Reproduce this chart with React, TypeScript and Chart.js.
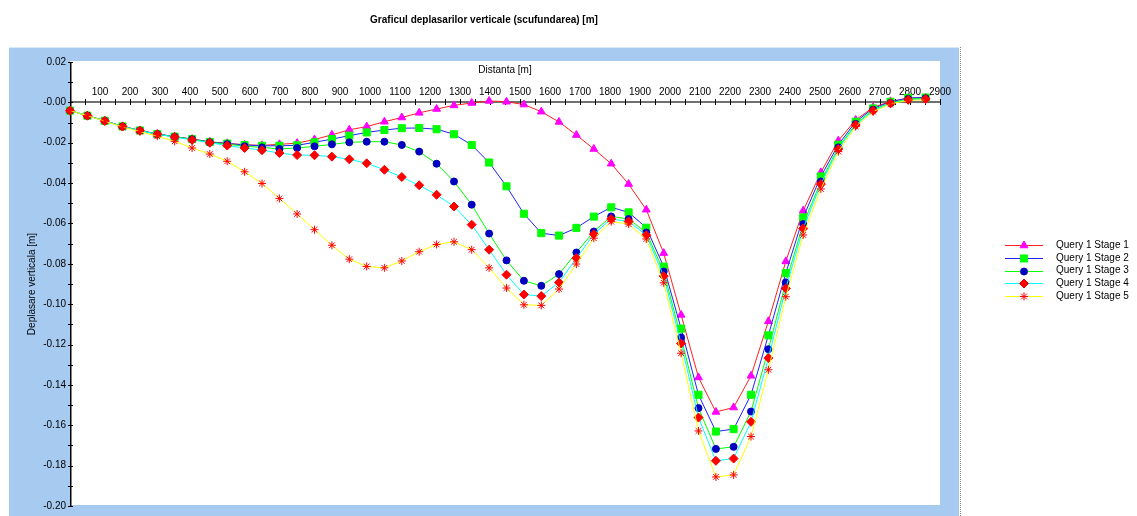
import React, { useEffect, useRef } from 'react';
import { Chart, registerables } from 'chart.js';
import { drawPoint } from 'chart.js/helpers';

Chart.register(...registerables);

const titleText = 'Graficul deplasarilor verticale (scufundarea) [m]';
const xAxisTitle = 'Distanta [m]';
const yAxisTitle = 'Deplasare verticala [m]';

const seriesNames = ['Query 1 Stage 1', 'Query 1 Stage 2', 'Query 1 Stage 3', 'Query 1 Stage 4', 'Query 1 Stage 5'];

const distances = [
  0, 58, 116, 175, 233, 291, 349, 407, 466, 524,
  582, 640, 698, 757, 815, 873, 931, 989, 1048, 1106,
  1164, 1222, 1280, 1339, 1397, 1455, 1513, 1571, 1630, 1688,
  1746, 1804, 1862, 1921, 1979, 2037, 2095, 2153, 2212, 2270,
  2328, 2386, 2444, 2503, 2561, 2619, 2677, 2735, 2794, 2852,
];

const stage1 = [
  -0.0041, -0.0066, -0.0091, -0.0119, -0.0139, -0.0157, -0.0170, -0.0182, -0.0196, -0.0203,
  -0.0210, -0.0213, -0.0208, -0.0202, -0.0184, -0.0161, -0.0136, -0.0120, -0.0096, -0.0075,
  -0.0052, -0.0033, -0.0015, -0.0003, 0.0007, 0.0003, -0.0011, -0.0046, -0.0097, -0.0162,
  -0.0231, -0.0304, -0.0405, -0.0532, -0.0747, -0.1053, -0.1363, -0.1534, -0.1512, -0.1355,
  -0.1085, -0.0788, -0.0537, -0.0347, -0.0190, -0.0087, -0.0025, 0.0005, 0.0020, 0.0022,
];

const stage2 = [
  -0.0041, -0.0066, -0.0091, -0.0119, -0.0139, -0.0157, -0.0170, -0.0182, -0.0196, -0.0204,
  -0.0211, -0.0215, -0.0215, -0.0213, -0.0198, -0.0182, -0.0165, -0.0149, -0.0137, -0.0128,
  -0.0127, -0.0133, -0.0158, -0.0211, -0.0298, -0.0416, -0.0552, -0.0648, -0.0660, -0.0622,
  -0.0566, -0.0520, -0.0545, -0.0621, -0.0814, -0.1121, -0.1449, -0.1631, -0.1619, -0.1449,
  -0.1154, -0.0846, -0.0570, -0.0367, -0.0210, -0.0096, -0.0030, 0.0003, 0.0022, 0.0024,
];

const stage3 = [
  -0.0041, -0.0066, -0.0092, -0.0120, -0.0140, -0.0158, -0.0171, -0.0183, -0.0198, -0.0207,
  -0.0217, -0.0223, -0.0231, -0.0226, -0.0218, -0.0208, -0.0198, -0.0195, -0.0195, -0.0211,
  -0.0244, -0.0304, -0.0392, -0.0507, -0.0650, -0.0783, -0.0884, -0.0909, -0.0851, -0.0744,
  -0.0640, -0.0565, -0.0578, -0.0645, -0.0838, -0.1165, -0.1515, -0.1717, -0.1707, -0.1532,
  -0.1223, -0.0892, -0.0603, -0.0392, -0.0223, -0.0107, -0.0036, -0.0003, 0.0017, 0.0020,
];

const stage4 = [
  -0.0041, -0.0066, -0.0092, -0.0120, -0.0140, -0.0158, -0.0172, -0.0186, -0.0200, -0.0214,
  -0.0226, -0.0237, -0.0251, -0.0261, -0.0262, -0.0269, -0.0282, -0.0302, -0.0334, -0.0370,
  -0.0411, -0.0458, -0.0516, -0.0606, -0.0730, -0.0854, -0.0952, -0.0960, -0.0892, -0.0772,
  -0.0653, -0.0578, -0.0590, -0.0658, -0.0861, -0.1195, -0.1562, -0.1776, -0.1765, -0.1583,
  -0.1267, -0.0922, -0.0625, -0.0405, -0.0231, -0.0112, -0.0041, -0.0005, 0.0013, 0.0017,
];

const stage5 = [
  -0.0041, -0.0066, -0.0093, -0.0122, -0.0145, -0.0168, -0.0193, -0.0226, -0.0256, -0.0292,
  -0.0344, -0.0402, -0.0476, -0.0553, -0.0631, -0.0708, -0.0777, -0.0813, -0.0820, -0.0786,
  -0.0740, -0.0704, -0.0691, -0.0730, -0.0820, -0.0920, -0.1003, -0.1006, -0.0925, -0.0801,
  -0.0673, -0.0591, -0.0603, -0.0677, -0.0894, -0.1243, -0.1628, -0.1856, -0.1846, -0.1656,
  -0.1325, -0.0963, -0.0657, -0.0429, -0.0244, -0.0120, -0.0046, -0.0008, 0.0010, 0.0013,
];

const xTickLabels = [
  '100', '200', '300', '400', '500', '600', '700', '800', '900', '1000',
  '1100', '1200', '1300', '1400', '1500', '1600', '1700', '1800', '1900', '2000',
  '2100', '2200', '2300', '2400', '2500', '2600', '2700', '2800', '2900',
];

const yTickLabels = ['0.02', '-0.00', '-0.02', '-0.04', '-0.06', '-0.08', '-0.10', '-0.12', '-0.14', '-0.16', '-0.18', '-0.20'];
const yTickValues = [0.02, 0, -0.02, -0.04, -0.06, -0.08, -0.1, -0.12, -0.14, -0.16, -0.18, -0.2];

const seriesValues = [stage1, stage2, stage3, stage4, stage5];

const seriesStyles = [
  { line: '#ff2020', fill: '#ff00ff', border: '#ff00ff', shape: 'triangle', radius: 4.5 },
  { line: '#2020ff', fill: '#00ff00', border: '#00ff00', shape: 'rect', radius: 5 },
  { line: '#00ff00', fill: '#0000c0', border: '#0000c0', shape: 'circle', radius: 3.5 },
  { line: '#00ffff', fill: '#ff0000', border: '#ff0000', shape: 'rectRot', radius: 4.5 },
  { line: '#ffff00', fill: '#ff0000', border: '#ff0000', shape: 'star', radius: 4 },
];

const FONT = '"Liberation Sans", Arial, sans-serif';
const PANEL_BLUE = '#a6caf0';

const decorPlugin = {
  id: 'decor',
  beforeDraw(chart: any) {
    const { ctx, chartArea } = chart;
    ctx.save();
    ctx.fillStyle = '#ffffff';
    ctx.fillRect(0, 0, chart.width, chart.height);
    // blue panel
    ctx.fillStyle = PANEL_BLUE;
    ctx.fillRect(9, 47, 950, chart.height - 47);
    // light top border
    ctx.fillStyle = '#d8e8f8';
    ctx.fillRect(9, 47, 950, 1);
    // white plot area
    ctx.fillStyle = '#ffffff';
    ctx.fillRect(chartArea.left, chartArea.top - 1, chartArea.right - chartArea.left, chartArea.bottom - chartArea.top);
    // dotted right edge
    ctx.strokeStyle = '#808080';
    ctx.lineWidth = 1;
    ctx.setLineDash([1, 1]);
    ctx.beginPath();
    ctx.moveTo(960.5, 47);
    ctx.lineTo(960.5, chart.height);
    ctx.stroke();
    ctx.setLineDash([]);
    // title
    ctx.fillStyle = '#000000';
    ctx.font = `bold 10px ${FONT}`;
    ctx.textAlign = 'center';
    ctx.textBaseline = 'middle';
    ctx.fillText(titleText, 484, 20);
    ctx.restore();
  },
  beforeDatasetsDraw(chart: any) {
    const { ctx, chartArea, scales } = chart;
    const xs = scales.x;
    const ys = scales.y;
    ctx.save();
    const y0 = Math.round(ys.getPixelForValue(0));
    const xl = Math.round(xs.getPixelForValue(0));
    // x axis line
    ctx.fillStyle = '#707070';
    ctx.fillRect(chartArea.left, y0 - 1, chartArea.right - chartArea.left, 2);
    // x ticks every 50
    ctx.strokeStyle = '#000000';
    ctx.lineWidth = 1;
    ctx.beginPath();
    for (let v = 50; v <= 2900; v += 50) {
      const px = Math.round(xs.getPixelForValue(v)) + 0.5;
      ctx.moveTo(px, y0 - 3);
      ctx.lineTo(px, y0 + 3);
    }
    ctx.stroke();
    // x tick labels
    ctx.fillStyle = '#000000';
    ctx.font = `10px ${FONT}`;
    ctx.textAlign = 'center';
    ctx.textBaseline = 'middle';
    xTickLabels.forEach((lab) => {
      const px = xs.getPixelForValue(Number(lab));
      ctx.fillText(lab, px, y0 - 10);
    });
    // x axis title
    ctx.fillText(xAxisTitle, (chartArea.left + chartArea.right) / 2, 70);
    // y axis line
    ctx.fillStyle = '#000000';
    ctx.fillRect(xl, chartArea.top, 1.5, chartArea.bottom - chartArea.top + 1);
    // y ticks every 0.01
    ctx.beginPath();
    for (let k = 0; k <= 22; k++) {
      const v = 0.02 - k * 0.01;
      const py = Math.round(ys.getPixelForValue(v)) + 0.5;
      ctx.moveTo(xl - 2, py);
      ctx.lineTo(xl + 3, py);
    }
    ctx.stroke();
    ctx.textAlign = 'right';
    yTickLabels.forEach((lab, i) => {
      const py = ys.getPixelForValue(yTickValues[i]);
      ctx.fillText(lab, xl - 4, py);
    });
    // y axis title
    ctx.save();
    ctx.translate(32, (chartArea.top + chartArea.bottom) / 2);
    ctx.rotate(-Math.PI / 2);
    ctx.textAlign = 'center';
    ctx.fillText(yAxisTitle, 0, 0);
    ctx.restore();
    ctx.restore();
  },
  afterDraw(chart: any) {
    const { ctx } = chart;
    ctx.save();
    const rowY = [245, 257.8, 270.6, 283.4, 296.2];
    seriesNames.forEach((name, i) => {
      const st = seriesStyles[i];
      const y = rowY[i];
      ctx.strokeStyle = st.line;
      ctx.lineWidth = 1;
      ctx.beginPath();
      ctx.moveTo(1005, Math.round(y) + 0.5);
      ctx.lineTo(1043, Math.round(y) + 0.5);
      ctx.stroke();
      ctx.fillStyle = st.fill;
      ctx.strokeStyle = st.border;
      drawPoint(ctx, { pointStyle: st.shape, radius: st.radius, rotation: 0, borderWidth: 1 } as any, 1024, Math.round(y) + 0.5);
      ctx.fillStyle = '#000000';
      ctx.font = `10px ${FONT}`;
      ctx.textAlign = 'left';
      ctx.textBaseline = 'middle';
      ctx.fillText(name, 1056, y);
    });
    ctx.restore();
  },
};

export default function App() {
  const canvasRef = useRef<HTMLCanvasElement | null>(null);

  useEffect(() => {
    const canvas = canvasRef.current;
    if (!canvas) return;
    const datasets = seriesValues.map((vals, k) => {
      const st = seriesStyles[k];
      return {
        label: seriesNames[k],
        data: distances.map((x, i) => ({ x, y: vals[i] })),
        showLine: true,
        borderColor: st.line,
        borderWidth: 1,
        backgroundColor: st.fill,
        pointStyle: st.shape,
        pointRadius: st.radius,
        pointBackgroundColor: st.fill,
        pointBorderColor: st.border,
        pointBorderWidth: 1,
        tension: 0,
        clip: false,
        order: 5 - k,
      };
    });
    const chart = new Chart(canvas, {
      type: 'line',
      data: { datasets } as any,
      options: {
        animation: false,
        responsive: false,
        devicePixelRatio: 1,
        events: [],
        layout: { padding: { left: 70, right: 197, top: 62, bottom: 10 } },
        plugins: {
          legend: { display: false },
          tooltip: { enabled: false },
          title: { display: false },
        },
        scales: {
          x: { type: 'linear', min: 0, max: 2900, display: false },
          y: { type: 'linear', min: -0.2, max: 0.02, display: false },
        },
      } as any,
      plugins: [decorPlugin],
    });
    return () => chart.destroy();
  }, []);

  return (
    <canvas
      ref={canvasRef}
      width={1137}
      height={516}
      style={{ position: 'fixed', left: 0, top: 0, width: 1137, height: 516 }}
    />
  );
}
